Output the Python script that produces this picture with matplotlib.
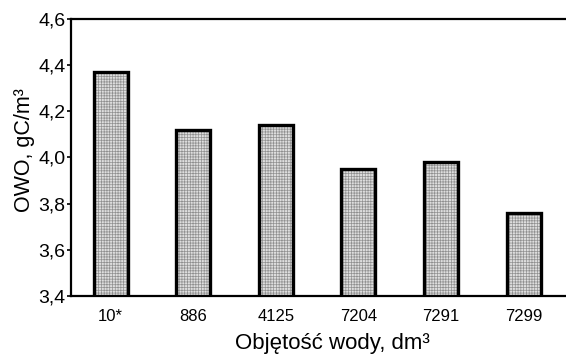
import matplotlib.pyplot as plt
import numpy as np

plt.rcParams['font.family'] = ['Liberation Sans', 'DejaVu Sans']
plt.rcParams['hatch.linewidth'] = 0.5

categories = ['10*', '886', '4125', '7204', '7291', '7299']
owo = [4.37, 4.12, 4.14, 3.95, 3.98, 3.76]
y_ticks = [3.4, 3.6, 3.8, 4.0, 4.2, 4.4, 4.6]
y_labels = ['3,4', '3,6', '3,8', '4,0', '4,2', '4,4', '4,6']

fig = plt.figure(figsize=(5.66, 3.54), dpi=100)
ax = fig.add_axes([0.1254, 0.1638, 0.88, 0.7839])

x = np.arange(len(categories))

# grey dotted fill, then the black outline on top
ax.bar(x, owo, width=0.41, bottom=0, color='#dedede', edgecolor='#909090',
       hatch='++++++', linewidth=0, zorder=2)
ax.bar(x, owo, width=0.41, bottom=0, fill=False, edgecolor='black',
       linewidth=2.4, zorder=3)

ax.set_xlim(-0.48, 5.55)
ax.set_ylim(3.4, 4.6)

ax.set_xticks(x)
ax.set_xticklabels(categories, fontsize=12)
ax.tick_params(axis='x', length=0, pad=9)

ax.set_yticks(y_ticks)
ax.set_yticklabels(y_labels, fontsize=14)
ax.tick_params(axis='y', direction='out', length=3, width=1.2, pad=1)

for side in ['left', 'bottom', 'top']:
    ax.spines[side].set_linewidth(1.6)
ax.spines['right'].set_visible(False)

ax.set_xlabel('Objętość wody, dm³', fontsize=16)
ax.set_ylabel('OWO, gC/m³', fontsize=15.5)
ax.xaxis.set_label_coords(0.524, -0.135)
ax.yaxis.set_label_coords(-0.072, 0.525)

plt.savefig('out.png', dpi=100)
